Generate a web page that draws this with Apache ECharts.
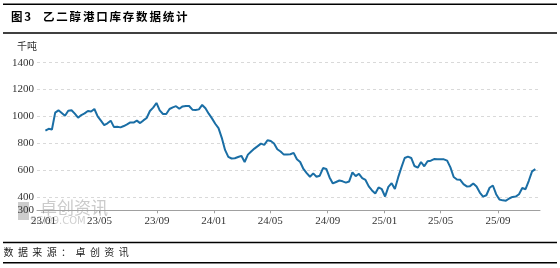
<!DOCTYPE html>
<html><head><meta charset="utf-8">
<script src="https://cdn.jsdelivr.net/npm/echarts@6/dist/echarts.min.js"></script>
<style>html,body{margin:0;padding:0;background:#fff}#c{width:560px;height:268px}</style>
</head><body><div id="c"></div>
<script>
// ---- data ----
const startDate = [2023, 0, 5];          // first weekly observation
const inv2023 = [894, 907, 902, 1028, 1045, 1025, 1005, 1042, 1046, 1020, 990, 1010, 1022, 1040, 1036, 1055, 1000, 968, 935, 948, 968, 920, 922, 918, 928, 940, 955, 954, 968, 950, 970, 988, 1040, 1065, 1100, 1045, 1018, 1018, 1055, 1067, 1076, 1057, 1074, 1078, 1077, 1050, 1047, 1052, 1085, 1060, 1020, 985];
const inv2024 = [945, 912, 840, 750, 698, 686, 688, 697, 706, 660, 715, 738, 760, 778, 797, 788, 822, 816, 798, 755, 738, 715, 716, 718, 728, 680, 660, 608, 577, 550, 575, 550, 558, 615, 608, 545, 500, 511, 522, 516, 506, 515, 583, 555, 572, 540, 526, 478, 448, 425, 470, 457];
const inv2025 = [403, 475, 502, 458, 545, 620, 690, 700, 690, 630, 618, 660, 628, 665, 670, 682, 680, 680, 680, 670, 620, 548, 530, 527, 495, 478, 480, 500, 478, 432, 402, 412, 468, 485, 420, 380, 374, 372, 388, 400, 402, 420, 466, 457, 520, 590, 607];
const xTickLabels = ['23/01', '23/05', '23/09', '24/01', '24/05', '24/09', '25/01', '25/05', '25/09'];
const yTickLabels = [300, 400, 600, 800, 1000, 1200, 1400];
const titleText = '图3 乙二醇港口库存数据统计';
const sourceText = '数据来源：卓创资讯';
const unitText = '千吨';

// ---- build ----
const values = inv2023.concat(inv2024, inv2025);
const seriesData = values.map((v, i) => {
  const d = new Date(startDate[0], startDate[1], startDate[2] + 7 * i);
  return [d.getTime(), v];
});
const tickTimes = xTickLabels.map(s => {
  const p = s.split('/');
  return new Date(2000 + (+p[0]), (+p[1]) - 1, 1).getTime();
});
const fmtDate = v => {
  const d = new Date(v);
  return String(d.getFullYear()).slice(2) + '/' + String(d.getMonth() + 1).padStart(2, '0');
};

const graphics = [];
[4.3, 33, 242.5, 262.7].forEach(y => {
  graphics.push({type: 'line', shape: {x1: 3, y1: y, x2: 557, y2: y}, style: {stroke: '#000', lineWidth: 1.5}, silent: true});
});
(function () {
  const chars = Array.from(titleText);
  let x = 11;
  chars.forEach((ch, i) => {
    if (ch === ' ') { x = 43; return; }
    graphics.push({type: 'text', x: x, y: 17, style: {text: ch, font: 'bold 11.5px "Noto Sans CJK SC"', fill: '#000', verticalAlign: 'middle'}, silent: true});
    x += /[0-9]/.test(ch) ? 8 : 13.3;
  });
})();
(function () {
  let x = 3.5;
  for (const ch of sourceText) {
    graphics.push({type: 'text', x: x, y: 252.7, style: {text: ch, font: '10px "Noto Sans CJK SC"', fill: '#222', verticalAlign: 'middle'}, silent: true});
    x += 14.4;
  }
})();
graphics.push({type: 'text', x: 17, y: 46, style: {text: unitText, font: '10px "Noto Sans CJK SC"', fill: '#333', verticalAlign: 'middle'}, silent: true});
graphics.push({type: 'rect', shape: {x: 18, y: 202, width: 11, height: 18}, style: {fill: '#cdcdcd'}, z: -1, silent: true});
graphics.push({type: 'text', x: 40, y: 208, style: {text: '卓创资讯', font: '17px "Noto Sans CJK SC"', fill: '#cbcbcb', verticalAlign: 'middle'}, z: -1, silent: true});
graphics.push({type: 'text', x: 30, y: 221, style: {text: 'SCI99.COM', font: '10px "DejaVu Sans"', fill: '#d0d0d0', verticalAlign: 'middle'}, z: -1, silent: true});

const chart = echarts.init(document.getElementById('c'), null, {renderer: 'canvas'});
chart.setOption({
  animation: false,
  backgroundColor: '#fff',
  graphic: graphics,
  grid: {left: 37, right: 20, top: 62.7, bottom: 57.7, outerBoundsMode: 'none', containLabel: false},
  xAxis: {
    type: 'value',
    min: new Date(2022, 11, 18).getTime(),
    max: new Date(2025, 10, 30).getTime(),
    axisLine: {show: true, lineStyle: {color: '#a0a0a0', width: 1}},
    axisTick: {show: true, length: 3, lineStyle: {color: '#a0a0a0'}, customValues: tickTimes},
    axisLabel: {customValues: tickTimes, formatter: fmtDate, color: '#333', fontFamily: 'Liberation Serif', fontSize: 11, margin: 5, hideOverlap: false},
    splitLine: {show: false}
  },
  yAxis: {
    type: 'value',
    min: 300, max: 1400, interval: 100,
    axisLine: {show: false},
    axisTick: {show: false},
    axisLabel: {
      color: '#333', fontFamily: 'Liberation Serif', fontSize: 11, margin: 3,
      formatter: v => (yTickLabels.indexOf(v) >= 0 ? String(v) : '')
    },
    splitLine: {show: true, lineStyle: {color: ['rgba(0,0,0,0)', '#d9d9d9'], type: [3, 3], width: 1}}
  },
  series: [{
    type: 'line',
    data: seriesData,
    showSymbol: false,
    smooth: false,
    lineStyle: {color: '#1a6ea5', width: 2},
    itemStyle: {color: '#1a6ea5'}
  }]
});
</script></body></html>
